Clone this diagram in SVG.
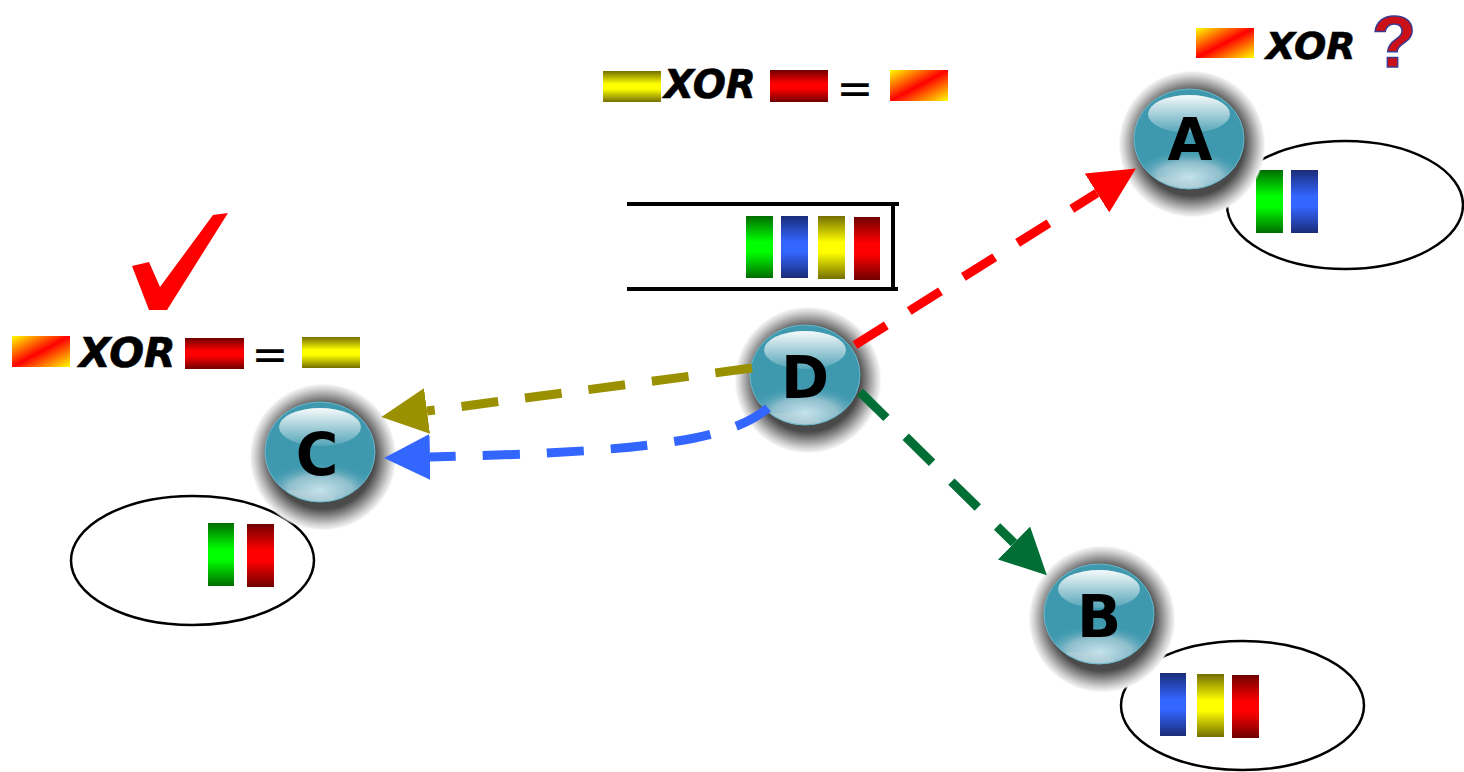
<svg xmlns="http://www.w3.org/2000/svg" width="1464" height="772" viewBox="0 0 1464 772">
  <style>
    .xor { font-family: "DejaVu Sans", "Liberation Sans", sans-serif; font-weight: bold; font-style: italic; fill: #000; stroke: #000; stroke-width: 0.6; }
    .eq { font-family: "DejaVu Sans", sans-serif; font-size: 44px; fill: #000; text-anchor: middle; }
    .letter { font-family: "DejaVu Sans", sans-serif; font-weight: bold; font-size: 58px; fill: #000; text-anchor: middle; }
    .buf { fill: none; stroke: #000; stroke-width: 2.5; }
    .conn { fill: none; stroke-width: 9; stroke-dasharray: 37 27; }
    .queue { stroke: #000; stroke-width: 4; fill: none; }
  </style>
  <defs>
    <!-- packet bar gradients: dark at the ends, bright in the middle -->
    <linearGradient id="gGreen" x1="0" y1="0" x2="0" y2="1">
      <stop offset="0" stop-color="#006c00"/><stop offset="0.42" stop-color="#00ff00"/><stop offset="0.58" stop-color="#00ff00"/><stop offset="1" stop-color="#006c00"/>
    </linearGradient>
    <linearGradient id="gBlue" x1="0" y1="0" x2="0" y2="1">
      <stop offset="0" stop-color="#1a2c78"/><stop offset="0.42" stop-color="#3366ff"/><stop offset="0.58" stop-color="#3366ff"/><stop offset="1" stop-color="#1a2c78"/>
    </linearGradient>
    <linearGradient id="gYellow" x1="0" y1="0" x2="0" y2="1">
      <stop offset="0" stop-color="#756f00"/><stop offset="0.42" stop-color="#ffff00"/><stop offset="0.58" stop-color="#ffff00"/><stop offset="1" stop-color="#756f00"/>
    </linearGradient>
    <linearGradient id="gRed" x1="0" y1="0" x2="0" y2="1">
      <stop offset="0" stop-color="#700000"/><stop offset="0.42" stop-color="#ff0000"/><stop offset="0.58" stop-color="#ff0000"/><stop offset="1" stop-color="#700000"/>
    </linearGradient>
    <linearGradient id="gMix" x1="0" y1="0" x2="1" y2="1">
      <stop offset="0" stop-color="#ffff00"/><stop offset="0.5" stop-color="#ff0000"/><stop offset="1" stop-color="#ffff00"/>
    </linearGradient>

    <!-- glossy ball pieces -->
    <radialGradient id="halo" cx="0.5" cy="0.5" r="0.5">
      <stop offset="0.7" stop-color="#4a4a4a"/>
      <stop offset="0.77" stop-color="#757575"/>
      <stop offset="0.85" stop-color="#a8a8a8"/>
      <stop offset="0.92" stop-color="#d4d4d4"/>
      <stop offset="0.97" stop-color="#eeeeee"/>
      <stop offset="1" stop-color="#ffffff" stop-opacity="0"/>
    </radialGradient>
    <linearGradient id="shine" x1="0" y1="0" x2="0" y2="1">
      <stop offset="0" stop-color="#ffffff" stop-opacity="0.95"/>
      <stop offset="1" stop-color="#ffffff" stop-opacity="0.12"/>
    </linearGradient>
    <radialGradient id="glow" cx="0.5" cy="0.62" r="0.55">
      <stop offset="0" stop-color="#c4e3ec"/>
      <stop offset="0.55" stop-color="#8dbdcb"/>
      <stop offset="1" stop-color="#3e99af" stop-opacity="0"/>
    </radialGradient>
    <clipPath id="ballClip"><ellipse rx="55" ry="50"/></clipPath>
    <g id="ball">
      <circle cx="3" cy="5" r="74" fill="url(#halo)"/>
      <ellipse rx="55" ry="50" fill="#3e99af"/>
      <g clip-path="url(#ballClip)">
        <ellipse cx="0" cy="32" rx="54" ry="25" fill="url(#glow)"/>
        <ellipse cx="-20" cy="52" rx="40" ry="14" fill="#c8d8de" opacity="0.35"/>
      </g>
      <ellipse cx="0" cy="-25" rx="41" ry="19" fill="url(#shine)"/>
      <ellipse rx="55" ry="50" fill="none" stroke="#6ab8ca" stroke-width="1"/>
    </g>

    <!-- arrowheads -->
    <marker id="hRed" markerUnits="userSpaceOnUse" markerWidth="46" markerHeight="46" viewBox="0 0 46 46" refX="0" refY="23" orient="auto">
      <path d="M0,0 L46,23 L0,46 z" fill="#ff0000"/>
    </marker>
    <marker id="hGreen" markerUnits="userSpaceOnUse" markerWidth="46" markerHeight="46" viewBox="0 0 46 46" refX="0" refY="23" orient="auto">
      <path d="M0,0 L46,23 L0,46 z" fill="#006e35"/>
    </marker>
    <marker id="hOlive" markerUnits="userSpaceOnUse" markerWidth="46" markerHeight="46" viewBox="0 0 46 46" refX="0" refY="23" orient="auto">
      <path d="M0,0 L46,23 L0,46 z" fill="#9a9000"/>
    </marker>
    <marker id="hBlue" markerUnits="userSpaceOnUse" markerWidth="46" markerHeight="46" viewBox="0 0 46 46" refX="0" refY="23" orient="auto">
      <path d="M0,0 L46,23 L0,46 z" fill="#3366ff"/>
    </marker>
  </defs>

  <rect width="1464" height="772" fill="#ffffff"/>

  <!-- XOR equation at the top -->
  <g id="eq-top">
    <rect x="603" y="71" width="58" height="31" fill="url(#gYellow)"/>
    <text class="xor" x="664" y="98" font-size="39">XOR</text>
    <rect x="770" y="70" width="58" height="32" fill="url(#gRed)"/>
    <text class="eq" x="855" y="104">=</text>
    <rect x="890" y="70" width="58" height="31" fill="url(#gMix)"/>
  </g>

  <!-- XOR equation near C -->
  <g id="eq-left">
    <rect x="12" y="336" width="58" height="31" fill="url(#gMix)"/>
    <text class="xor" x="79" y="367" font-size="41">XOR</text>
    <rect x="185" y="338" width="59" height="31" fill="url(#gRed)"/>
    <text class="eq" x="270" y="370">=</text>
    <rect x="302" y="337" width="58" height="31" fill="url(#gYellow)"/>
  </g>

  <!-- check mark -->
  <g id="check">
    <path d="M132,266 L149,262 L160,287 L213,215 L228,213 L167,310 L149,310 Z" fill="#ff0000"/>
  </g>

  <!-- XOR with question mark near A -->
  <g id="eq-right">
    <rect x="1196" y="28" width="58" height="30" fill="url(#gMix)"/>
    <text class="xor" x="1266" y="59" font-size="38">XOR</text>
    <text x="1394" y="67" font-family="Liberation Sans, Arial, sans-serif" font-weight="bold" font-size="73" text-anchor="middle" fill="#cc1018" stroke="#3a3a90" stroke-width="1.5">?</text>
  </g>

  <!-- queue at D -->
  <g id="queue">
    <line class="queue" x1="627" y1="204" x2="899" y2="204"/>
    <line class="queue" x1="627" y1="289" x2="898" y2="289"/>
    <line class="queue" x1="893" y1="204" x2="893" y2="287"/>
    <rect x="746" y="216" width="27" height="62" fill="url(#gGreen)"/>
    <rect x="781" y="216" width="27" height="62" fill="url(#gBlue)"/>
    <rect x="818" y="216" width="27" height="63" fill="url(#gYellow)"/>
    <rect x="854" y="217" width="26" height="63" fill="url(#gRed)"/>
  </g>

  <!-- buffers -->
  <g id="buffer-A">
    <ellipse class="buf" cx="1345" cy="205" rx="118" ry="64"/>
    <rect x="1256" y="170" width="27" height="63" fill="url(#gGreen)"/>
    <rect x="1291" y="170" width="27" height="63" fill="url(#gBlue)"/>
  </g>
  <g id="buffer-C">
    <ellipse class="buf" cx="192.5" cy="560.5" rx="121.5" ry="64.5"/>
    <rect x="208" y="523" width="26" height="63" fill="url(#gGreen)"/>
    <rect x="247" y="524" width="27" height="63" fill="url(#gRed)"/>
  </g>
  <g id="buffer-B">
    <ellipse class="buf" cx="1242.5" cy="705.5" rx="121.5" ry="64.5"/>
    <rect x="1160" y="673" width="26" height="63" fill="url(#gBlue)"/>
    <rect x="1197" y="674" width="27" height="63" fill="url(#gYellow)"/>
    <rect x="1232" y="675" width="27" height="63" fill="url(#gRed)"/>
  </g>

  <!-- nodes -->
  <g id="node-A">
    <use href="#ball" x="1189" y="139"/>
    <text class="letter" x="1190" y="160">A</text>
  </g>
  <g id="node-D">
    <use href="#ball" x="805" y="375"/>
    <text class="letter" x="805" y="398">D</text>
  </g>
  <g id="node-C">
    <use href="#ball" x="320" y="452"/>
    <text class="letter" x="317" y="475">C</text>
  </g>
  <g id="node-B">
    <use href="#ball" x="1099" y="614"/>
    <text class="letter" x="1099" y="637">B</text>
  </g>

  <!-- connectors -->
  <g id="connectors">
    <path class="conn" d="M855,345 L1097,193" stroke="#ff0000" marker-end="url(#hRed)"/>
    <path class="conn" d="M860,392 L1014,543" stroke="#006e35" marker-end="url(#hGreen)"/>
    <path class="conn" d="M752,368 L427,411" stroke="#9a9000" marker-end="url(#hOlive)"/>
    <path class="conn" d="M768,408 C730,440 650,452 430,457" stroke="#3366ff" marker-end="url(#hBlue)"/>
  </g>
</svg>
